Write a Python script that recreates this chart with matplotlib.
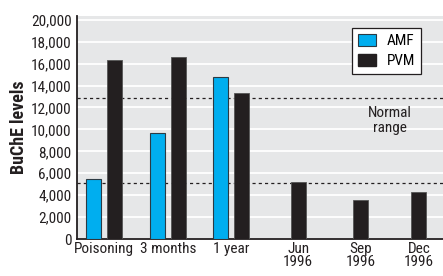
import numpy as np
import matplotlib
matplotlib.use('Agg')
import matplotlib.pyplot as plt
from matplotlib.patches import Patch

plt.rcParams['font.family'] = ['Roboto Condensed', 'DejaVu Sans']

# data
categories = ['Poisoning', '3 months', '1 year', 'Jun\n1996', 'Sep\n1996', 'Dec\n1996']
amf = [5500, 9700, 14800]
pvm = [16300, 16600, 13300, 5200, 3600, 4300]
normal_low = 5100
normal_high = 12900

# category centres (the picture spaces them slightly unevenly)
xpos = np.array([0, 1, 2, 3.05, 4.03, 4.95])
w = 0.236
off = 0.165

fig = plt.figure(figsize=(4.43, 2.76), dpi=100)
ax = fig.add_axes([0.1738, 0.134, 0.8262, 0.809])
ax.set_facecolor('#e6e7e8')

ax.set_ylim(0, 20370)
ax.set_xlim(-0.428, 5.33)
ax.set_yticks(np.arange(0, 20001, 2000))
ax.set_yticklabels([f'{v:,}' for v in range(0, 20001, 2000)])
ax.yaxis.grid(True, color='white', linewidth=1.3)
ax.set_axisbelow(True)

# AMF only for the first three, PVM alone later
n = len(amf)
ax.bar(xpos[:n] - off, amf, width=w, color='#00aeef', edgecolor='#2b3a44', linewidth=0.8, zorder=3)
ax.bar(xpos[:n] + off, pvm[:n], width=w, color='#231f20', edgecolor='#555555', linewidth=0.6, zorder=3)
ax.bar(xpos[n:], pvm[n:], width=w, color='#231f20', edgecolor='#555555', linewidth=0.6, zorder=3)

for y in (normal_low, normal_high):
    ax.axhline(y, color='#231f20', linewidth=0.9, linestyle=(0, (2.5, 2.5)), zorder=2)

ax.text(4.49, 10800, 'Normal\nrange', ha='center', va='center', fontsize=11,
        color='#231f20', linespacing=1.15)

ax.set_xticks(xpos)
ax.set_xticklabels(categories, fontsize=11, color='#231f20', linespacing=0.9)
ax.tick_params(axis='both', length=0, pad=2, labelsize=11, colors='#231f20')
ax.tick_params(axis='y', pad=4)

for s in ('top', 'right'):
    ax.spines[s].set_visible(False)
ax.spines['left'].set_color('#231f20')
ax.spines['bottom'].set_color('#231f20')
ax.spines['left'].set_linewidth(1.3)
ax.spines['bottom'].set_linewidth(1.3)

ax.set_ylabel('BuChE levels', fontsize=13, fontweight='bold', color='#231f20', labelpad=2)

handles = [Patch(facecolor='#00aeef', edgecolor='#2b3a44', linewidth=0.8, label='AMF'),
           Patch(facecolor='#231f20', edgecolor='#231f20', label='PVM')]
leg = ax.legend(handles=handles, loc='upper right', bbox_to_anchor=(0.962, 0.98),
                fontsize=11, frameon=True, fancybox=False, handlelength=1.2,
                handleheight=0.85, handletextpad=0.7, borderpad=0.4, labelspacing=0.35)
leg.get_frame().set_edgecolor('#231f20')
leg.get_frame().set_linewidth(0.9)
leg.get_frame().set_facecolor('white')
leg.get_frame().set_alpha(1)

fig.savefig('out.png', dpi=100)
